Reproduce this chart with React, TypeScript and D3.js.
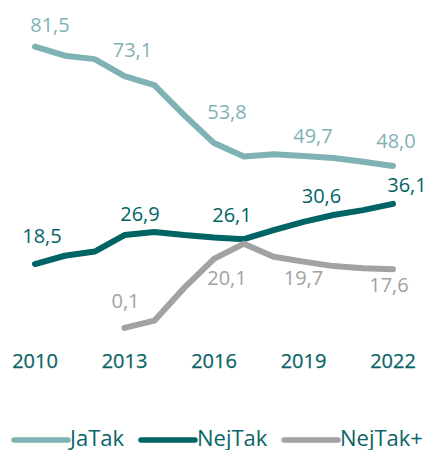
import React from "react";
import * as d3 from "d3";

const years = [2010, 2011, 2012, 2013, 2014, 2015, 2016, 2017, 2018, 2019, 2020, 2021, 2022];
const jaTak = [81.5, 78.9, 77.9, 73.0, 70.4, 61.7, 53.6, 49.7, 50.4, 49.9, 49.3, 48.2, 47.0];
const nejTak = [18.6, 21.0, 22.2, 27.0, 27.9, 27.0, 26.3, 25.8, 28.4, 30.8, 32.8, 34.2, 36.0];
const nejTakPlusYears = [2013, 2014, 2015, 2016, 2017, 2018, 2019, 2020, 2021, 2022];
const nejTakPlus = [0.1, 2.2, 11.7, 20.1, 24.5, 20.7, 19.3, 18.0, 17.4, 17.1];

const labelYears = [2010, 2013, 2016, 2019, 2022];
const jaTakLabels = ["81,5", "73,1", "53,8", "49,7", "48,0"];
const nejTakLabels = ["18,5", "26,9", "26,1", "30,6", "36,1"];
const nejTakPlusLabelYears = [2013, 2016, 2019, 2022];
const nejTakPlusLabels = ["0,1", "20,1", "19,7", "17,6"];
const tickYears = [2010, 2013, 2016, 2019, 2022];
const seriesNames = ["JaTak", "NejTak", "NejTak+"];

const COLORS = ["#7fb2b4", "#006464", "#a2a2a2"];
const TEXT_DARK = "#0a6466";
const FONT = "'Open Sans', 'Noto Sans', sans-serif";

// label offsets (dx, dy) relative to the line point at that year
const jaOff = [[15, -15], [8, -19], [13, -24], [9.5, -13], [3, -18]];
const nejOff = [[7, -21], [15.5, -14], [18, -15], [18, -19], [14, -12]];
const plusOff = [[1, -20], [13, 26], [0, 23], [-4, 23]];

export default function App() {
  const x = d3.scaleLinear().domain([2010, 2022]).range([35, 393]);
  const y = d3.scaleLinear().domain([0, 81.5]).range([328.3, 46.7]);
  const line = d3
    .line<[number, number]>()
    .x((d) => x(d[0]))
    .y((d) => y(d[1]));

  const series = [
    { name: seriesNames[0], yrs: years, vals: jaTak, labels: jaTakLabels, lYears: labelYears, off: jaOff },
    { name: seriesNames[1], yrs: years, vals: nejTak, labels: nejTakLabels, lYears: labelYears, off: nejOff },
    { name: seriesNames[2], yrs: nejTakPlusYears, vals: nejTakPlus, labels: nejTakPlusLabels, lYears: nejTakPlusLabelYears, off: plusOff },
  ];

  const legendX = [14, 141, 284];

  return (
    <svg
      width={428}
      height={450}
      style={{ position: "absolute", left: 0, top: 0, background: "#fff" }}
      fontFamily={FONT}
    >
      {series.map((s, i) => (
        <path
          key={s.name}
          d={line(s.yrs.map((yr, j) => [yr, s.vals[j]] as [number, number])) || ""}
          fill="none"
          stroke={COLORS[i]}
          strokeWidth={6}
          strokeLinecap="round"
          strokeLinejoin="round"
        />
      ))}
      {series.map((s, i) =>
        s.lYears.map((yr, j) => {
          const idx = s.yrs.indexOf(yr);
          return (
            <text
              key={s.name + yr}
              x={x(yr) + s.off[j][0]}
              y={y(s.vals[idx]) + s.off[j][1]}
              textAnchor="middle"
              fontSize={20}
              fill={COLORS[i]}
            >
              {s.labels[j]}
            </text>
          );
        })
      )}
      {tickYears.map((yr) => (
        <text
          key={yr}
          x={x(yr)}
          y={368}
          textAnchor="middle"
          fontSize={20}
          fill={TEXT_DARK}
          stroke={TEXT_DARK}
          strokeWidth={0.25}
        >
          {yr}
        </text>
      ))}
      {seriesNames.map((n, i) => (
        <g key={n}>
          <line
            x1={legendX[i]}
            x2={legendX[i] + 54}
            y1={440}
            y2={440}
            stroke={COLORS[i]}
            strokeWidth={5.5}
            strokeLinecap="round"
          />
          <text x={legendX[i] + 56} y={445.5} fontSize={22} fill={TEXT_DARK}>
            {n}
          </text>
        </g>
      ))}
    </svg>
  );
}
